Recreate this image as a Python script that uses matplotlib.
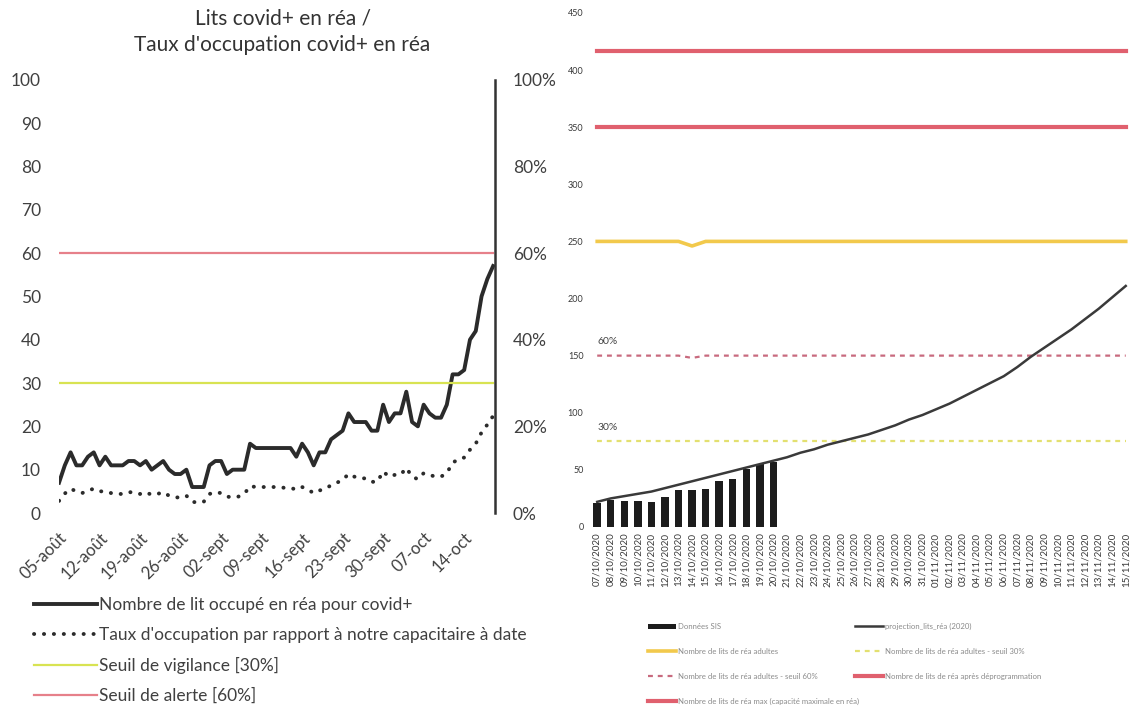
import matplotlib
matplotlib.use("Agg")
import matplotlib.pyplot as plt
import numpy as np

plt.rcParams['font.family'] = ['Lato', 'DejaVu Sans']

# ---- left chart : daily values from 05-aout
lits_covid = [7, 11, 14, 11, 11, 13, 14, 11, 13, 11, 11, 11, 12, 12, 11, 12,
              10, 11, 12, 10, 9, 9, 10, 6, 6, 6, 11, 12, 12, 9, 10, 10, 10,
              16, 15, 15, 15, 15, 15, 15, 15, 13, 16, 14, 11, 14, 14, 17, 18,
              19, 23, 21, 21, 21, 19, 19, 25, 21, 23, 23, 28, 21, 20, 25, 23,
              22, 22, 25, 32, 32, 33, 40, 42, 50, 54, 57]
taux_occup = [2.8, 4.5, 5.6, 5.0, 4.6, 5.2, 5.6, 5.0, 5.0, 4.6, 4.4, 4.4, 4.8,
              4.8, 4.4, 4.8, 4.2, 4.4, 4.8, 4.0, 3.6, 3.6, 4.0, 2.6, 2.4, 2.6,
              4.4, 4.8, 4.6, 3.8, 3.6, 3.8, 4.4, 6.2, 6.0, 6.0, 6.0, 6.0, 6.0,
              5.8, 5.8, 5.4, 6.0, 5.4, 4.6, 5.2, 5.6, 6.4, 7.0, 7.6, 9.0, 8.4,
              8.0, 8.0, 7.2, 7.2, 9.6, 8.4, 8.8, 8.8, 10.4, 8.4, 7.8, 9.2, 8.8,
              8.4, 8.4, 9.2, 11.6, 12.4, 12.8, 14.6, 16.0, 18.6, 20.4, 22.4]
seuil_vigilance = 0.30
seuil_alerte = 0.60
week_ticks = [0, 7, 14, 21, 28, 35, 42, 49, 56, 63, 70]
week_labels = ['05-août', '12-août', '19-août', '26-août', '02-sept', '09-sept',
               '16-sept', '23-sept', '30-sept', '07-oct', '14-oct']

# ---- right chart : 07/10/2020 -> 15/11/2020
dates_r = ['%02d/10/2020' % d for d in range(7, 32)] + \
          ['%02d/11/2020' % d for d in range(1, 16)]
donnees = [21, 24, 23, 23, 22, 26, 32, 32, 33, 40, 42, 51, 55, 57]
projection = [22, 25, 27, 29, 31, 34, 37, 40, 43, 46, 49, 52, 55, 58, 61, 65,
              68, 72, 75, 78, 81, 85, 89, 94, 98, 103, 108, 114, 120, 126, 132,
              140, 149, 157, 165, 173, 182, 191, 201, 211]
lits_rea = [250] * 7 + [246] + [250] * 32
lits_30 = [75] * 40
lits_60 = [150] * 7 + [148] + [150] * 32
lits_deprog = [350] * 40
lits_max = [417] * 40
leg_r = ['Données SIS', 'projection_lits_réa (2020)',
         'Nombre de lits de réa adultes', 'Nombre de lits de réa adultes - seuil 30%',
         'Nombre de lits de réa adultes - seuil 60%', 'Nombre de lits de réa après déprogrammation',
         'Nombre de lits de réa max (capacité maximale en réa)']

fig = plt.figure(figsize=(11.35, 7.08), dpi=100)
txt = '#404040'

# ================= left =================
ax = fig.add_axes([0.052, 0.2754, 0.384, 0.612])
axr = ax.twinx()
days = np.arange(len(lits_covid))
l1, = ax.plot(days, lits_covid, color='#2b2b2b', lw=2.8, zorder=5)
pct = np.array(taux_occup) / 100
l2, = axr.plot(days, pct, color='#2b2b2b', lw=2.8, ls=(0, (0.05, 2.5)),
               dash_capstyle='round', zorder=5)
l3, = axr.plot(days, [seuil_vigilance] * len(days), color='#d8e352', lw=1.6)
l4, = axr.plot(days, [seuil_alerte] * len(days), color='#e6808a', lw=1.6)

ax.set_xlim(0, 75.3)
ax.set_ylim(0, 100)
axr.set_ylim(0, 1)
ax.set_yticks(range(0, 101, 10))
axr.set_yticks([0, 0.2, 0.4, 0.6, 0.8, 1.0])
axr.set_yticklabels(['0%', '20%', '40%', '60%', '80%', '100%'])
ax.set_xticks(week_ticks)
ax.set_xticklabels(week_labels, rotation=45, ha='right', va='top',
                   rotation_mode='anchor')
for a in (ax, axr):
    for s in a.spines.values():
        s.set_visible(False)
    a.tick_params(length=0, labelsize=12.5, colors=txt)
ax.tick_params(axis='y', pad=13)
ax.tick_params(axis='x', pad=12, labelsize=12)
axr.tick_params(axis='y', pad=13)
axr.spines['right'].set_visible(True)
axr.spines['right'].set_color('#333333')
axr.spines['right'].set_linewidth(1.8)

fig.text(0.249, 0.955, "Lits covid+ en réa /\nTaux d'occupation covid+ en réa",
         ha='center', va='center', fontsize=15, color='#333333',
         linespacing=1.4)

fig.legend([l1, l2, l3, l4],
           ['Nombre de lit occupé en réa pour covid+',
            "Taux d'occupation par rapport à notre capacitaire à date",
            'Seuil de vigilance [30%]', 'Seuil de alerte [60%]'],
           loc='upper left', bbox_to_anchor=(0.030, 0.157), frameon=False,
           fontsize=12.5, handlelength=3.6, handletextpad=0.15,
           labelspacing=0.8, borderpad=0, borderaxespad=0,
           labelcolor=txt)

# ================= right =================
ax2 = fig.add_axes([0.519, 0.2557, 0.480, 0.726])
xr = np.arange(len(dates_r))
b = ax2.bar(xr[:len(donnees)], donnees, width=0.55, color='#1c1c1c', zorder=3)
p1, = ax2.plot(xr, projection, color='#3a3a3a', lw=1.8, zorder=4)
p2, = ax2.plot(xr, lits_rea, color='#f2c94c', lw=2.6)
p3, = ax2.plot(xr, lits_30, color='#e3e070', lw=1.6, ls=(0, (2.2, 2.2)))
p4, = ax2.plot(xr, lits_60, color='#c86a7e', lw=1.6, ls=(0, (2.2, 2.2)))
p5, = ax2.plot(xr, lits_deprog, color='#e0606e', lw=3.0)
p6, = ax2.plot(xr, lits_max, color='#e0606e', lw=3.0)
ax2.text(0, 158, '60%', fontsize=7.5, color='#444444', va='bottom')
ax2.text(0, 83, '30%', fontsize=7.5, color='#444444', va='bottom')

ax2.set_xlim(-0.6, 39.6)
ax2.set_ylim(0, 450)
ax2.set_yticks(range(0, 451, 50))
ax2.set_xticks(xr)
ax2.set_xticklabels(dates_r, rotation=90, fontsize=7)
for s in ax2.spines.values():
    s.set_visible(False)
ax2.tick_params(length=0, colors='#3a3a3a')
ax2.tick_params(axis='y', labelsize=6.5, pad=4)
ax2.tick_params(axis='x', pad=4)

kw = dict(loc='upper left', frameon=False, fontsize=5.6, handlelength=3.6,
          handletextpad=0.3, labelspacing=2.3, borderpad=0, borderaxespad=0,
          labelcolor='#8a8a8a')
fig.legend([b, p2, p4, p6], [leg_r[0], leg_r[2], leg_r[4], leg_r[6]],
           bbox_to_anchor=(0.571, 0.12), **kw)
fig.legend([p1, p3, p5], [leg_r[1], leg_r[3], leg_r[5]],
           bbox_to_anchor=(0.753, 0.12), **kw)

fig.savefig('out.png', dpi=100)
